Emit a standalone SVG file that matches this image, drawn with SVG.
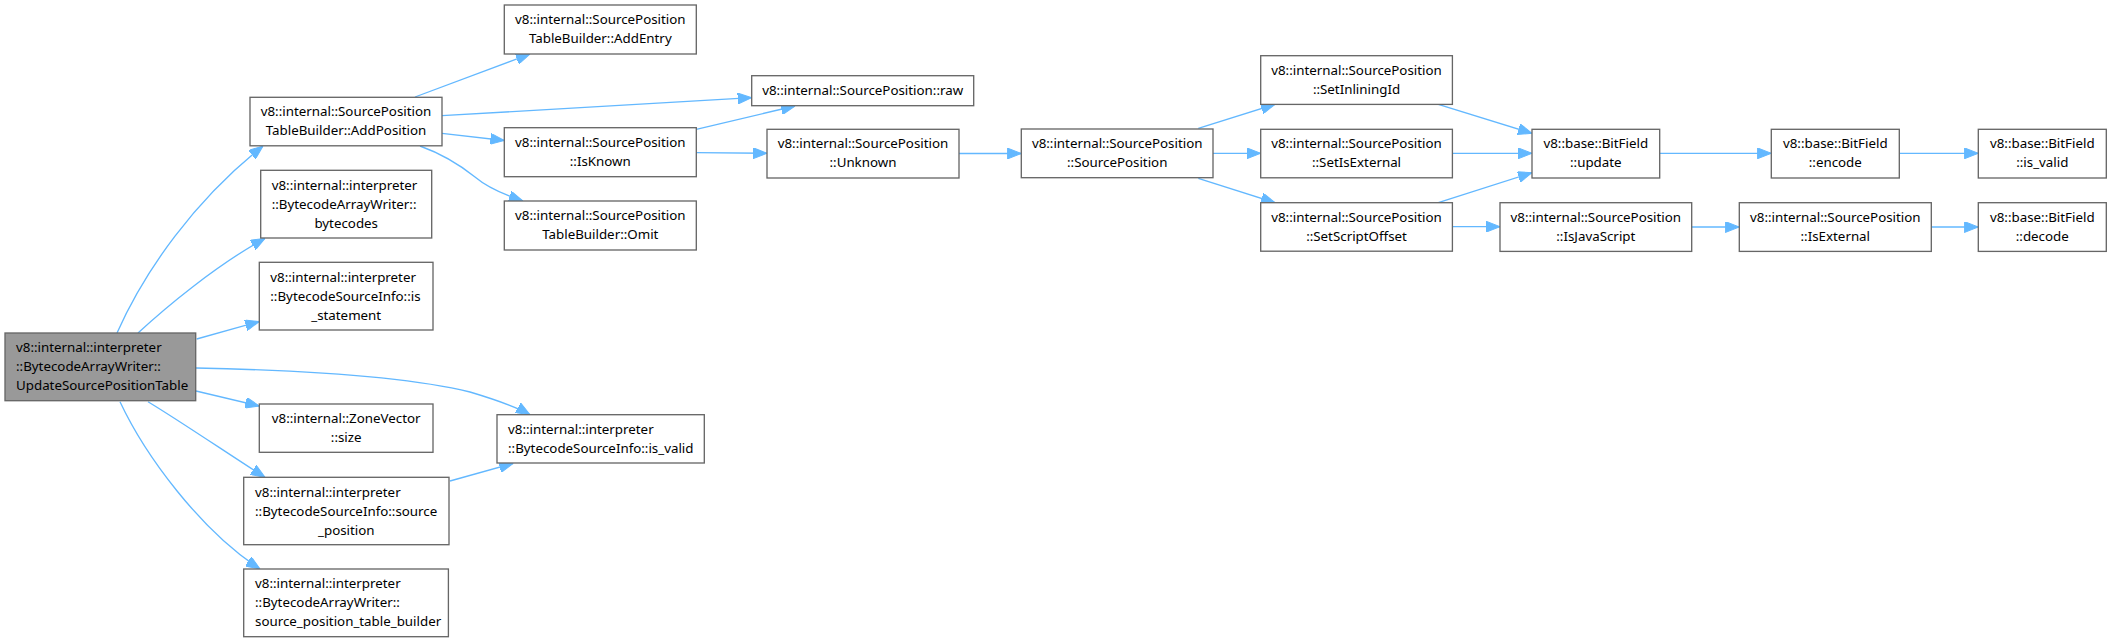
<svg xmlns="http://www.w3.org/2000/svg" width="2112" height="642" viewBox="0 0 2112 642">
<style>
.n rect{fill:#ffffff;stroke:#666666;stroke-width:1.33}
.n.hl rect{fill:#999999}
.n text{font-family:"Noto Sans","DejaVu Sans",sans-serif;font-size:13.33px;fill:#000000}
.c{text-anchor:middle}
.e path{fill:none;stroke:#63b8ff;stroke-width:1.33;marker-end:url(#ah)}
</style>
<defs>
<marker id="ah" markerUnits="userSpaceOnUse" viewBox="0 0 14 11" refX="14" refY="5.5" markerWidth="14" markerHeight="11" orient="auto">
<path d="M0,0 L14,5.5 L0,11 z" fill="#63b8ff" stroke="#63b8ff" stroke-width="1"/>
</marker>
</defs>
<rect width="2112" height="642" fill="#ffffff"/>
<g id="edges" class="e">
<path d="M117,333 C145,270 195,200 263,146"/>
<path d="M138,333 C165,308 215,266 265,238.3"/>
<path d="M196.7,339 L259.3,321.5"/>
<path d="M196,368 C290,370 400,375 470,392 C490,398 515,406 530,414.7"/>
<path d="M196,391 L259.3,406"/>
<path d="M148,401.7 C180,421 230,455 265,477.3"/>
<path d="M120,401.7 C145,455 200,530 260,569"/>
<path d="M450,481 L513.3,463.3"/>
<path d="M415,97 L530,54"/>
<path d="M442,115.7 L751.7,97.7"/>
<path d="M442,133.3 L504.3,140.5"/>
<path d="M420,146 C445,155 460,165 475,177 C488,188 505,195 523,201"/>
<path d="M696.3,129.3 L795,106"/>
<path d="M696.3,152.7 L767,153.3"/>
<path d="M959,153.5 L1021.3,153.5"/>
<path d="M1198.3,128.3 L1275,104.3"/>
<path d="M1213,153.3 L1260.7,153.3"/>
<path d="M1198.3,178.3 L1275,202.7"/>
<path d="M1438.3,104.3 L1532,133.3"/>
<path d="M1452.3,153.3 L1532,153.3"/>
<path d="M1438.3,202.7 L1532,172.7"/>
<path d="M1452.3,226.7 L1500,226.7"/>
<path d="M1659.7,153.3 L1771.3,153.3"/>
<path d="M1899.3,153.3 L1978.3,153.3"/>
<path d="M1691.7,227 L1739.3,227"/>
<path d="M1931.3,227 L1978.3,227"/>
</g>
<g id="n_update_table" class="n hl">
<rect x="5" y="333" width="190.7" height="67.7"/>
<text x="16" y="352">v8::internal::interpreter</text>
<text x="16" y="371">::BytecodeArrayWriter::</text>
<text x="16" y="390">UpdateSourcePositionTable</text>
</g>
<g id="n_add_position" class="n">
<rect x="250" y="97.3" width="192" height="48.5"/>
<text class="c" x="346" y="116">v8::internal::SourcePosition</text>
<text class="c" x="346" y="135">TableBuilder::AddPosition</text>
</g>
<g id="n_bytecodes" class="n">
<rect x="260.7" y="170.3" width="171" height="67.7"/>
<text x="271.7" y="190">v8::internal::interpreter</text>
<text x="271.7" y="209">::BytecodeArrayWriter::</text>
<text class="c" x="346.2" y="228">bytecodes</text>
</g>
<g id="n_is_statement" class="n">
<rect x="259.3" y="262.3" width="173.7" height="67.7"/>
<text x="270.3" y="282">v8::internal::interpreter</text>
<text x="270.3" y="301">::BytecodeSourceInfo::is</text>
<text class="c" x="346.2" y="320">_statement</text>
</g>
<g id="n_zv_size" class="n">
<rect x="259.3" y="404" width="173.7" height="48.3"/>
<text class="c" x="346.2" y="422.5">v8::internal::ZoneVector</text>
<text class="c" x="346.2" y="441.5">::size</text>
</g>
<g id="n_source_position" class="n">
<rect x="243.7" y="477.3" width="205.3" height="67.4"/>
<text x="255" y="496.5">v8::internal::interpreter</text>
<text x="255" y="515.5">::BytecodeSourceInfo::source</text>
<text class="c" x="346.3" y="534.5">_position</text>
</g>
<g id="n_table_builder" class="n">
<rect x="243.7" y="569" width="204.7" height="67.7"/>
<text x="255" y="588">v8::internal::interpreter</text>
<text x="255" y="607">::BytecodeArrayWriter::</text>
<text x="255" y="626">source_position_table_builder</text>
</g>
<g id="n_bsi_is_valid" class="n">
<rect x="497" y="414.7" width="207.3" height="48.3"/>
<text x="508" y="433.5">v8::internal::interpreter</text>
<text x="508" y="452.5">::BytecodeSourceInfo::is_valid</text>
</g>
<g id="n_add_entry" class="n">
<rect x="504.3" y="5" width="192" height="49"/>
<text class="c" x="600.3" y="24">v8::internal::SourcePosition</text>
<text class="c" x="600.3" y="43">TableBuilder::AddEntry</text>
</g>
<g id="n_is_known" class="n">
<rect x="504.3" y="127.7" width="192" height="49"/>
<text class="c" x="600.3" y="146.5">v8::internal::SourcePosition</text>
<text class="c" x="600.3" y="165.5">::IsKnown</text>
</g>
<g id="n_omit" class="n">
<rect x="504.3" y="201" width="192" height="49"/>
<text class="c" x="600.3" y="220">v8::internal::SourcePosition</text>
<text class="c" x="600.3" y="239">TableBuilder::Omit</text>
</g>
<g id="n_raw" class="n">
<rect x="751.7" y="75.7" width="222" height="30"/>
<text class="c" x="862.7" y="95">v8::internal::SourcePosition::raw</text>
</g>
<g id="n_unknown" class="n">
<rect x="767" y="129.3" width="192" height="48.7"/>
<text class="c" x="863" y="148">v8::internal::SourcePosition</text>
<text class="c" x="863" y="167">::Unknown</text>
</g>
<g id="n_sp_ctor" class="n">
<rect x="1021.3" y="129" width="191.7" height="48.7"/>
<text class="c" x="1117.2" y="148">v8::internal::SourcePosition</text>
<text class="c" x="1117.2" y="167">::SourcePosition</text>
</g>
<g id="n_set_inlining" class="n">
<rect x="1260.7" y="55.7" width="191.7" height="48.7"/>
<text class="c" x="1356.5" y="74.5">v8::internal::SourcePosition</text>
<text class="c" x="1356.5" y="93.5">::SetInliningId</text>
</g>
<g id="n_set_is_external" class="n">
<rect x="1260.7" y="129.3" width="191.7" height="48.5"/>
<text class="c" x="1356.5" y="148">v8::internal::SourcePosition</text>
<text class="c" x="1356.5" y="167">::SetIsExternal</text>
</g>
<g id="n_set_script_offset" class="n">
<rect x="1260.7" y="202.7" width="191.7" height="48.5"/>
<text class="c" x="1356.5" y="221.5">v8::internal::SourcePosition</text>
<text class="c" x="1356.5" y="240.5">::SetScriptOffset</text>
</g>
<g id="n_bf_update" class="n">
<rect x="1532" y="129.3" width="127.7" height="48.7"/>
<text class="c" x="1595.8" y="148">v8::base::BitField</text>
<text class="c" x="1595.8" y="167">::update</text>
</g>
<g id="n_is_javascript" class="n">
<rect x="1500" y="202.7" width="191.7" height="48.7"/>
<text class="c" x="1595.8" y="221.5">v8::internal::SourcePosition</text>
<text class="c" x="1595.8" y="240.5">::IsJavaScript</text>
</g>
<g id="n_bf_encode" class="n">
<rect x="1771.3" y="129.3" width="128" height="48.7"/>
<text class="c" x="1835.3" y="148">v8::base::BitField</text>
<text class="c" x="1835.3" y="167">::encode</text>
</g>
<g id="n_is_external" class="n">
<rect x="1739.3" y="202.7" width="192" height="48.7"/>
<text class="c" x="1835.3" y="221.5">v8::internal::SourcePosition</text>
<text class="c" x="1835.3" y="240.5">::IsExternal</text>
</g>
<g id="n_bf_is_valid" class="n">
<rect x="1978.3" y="129.3" width="128" height="48.7"/>
<text class="c" x="2042.3" y="148">v8::base::BitField</text>
<text class="c" x="2042.3" y="167">::is_valid</text>
</g>
<g id="n_bf_decode" class="n">
<rect x="1978.3" y="202.7" width="128" height="48.7"/>
<text class="c" x="2042.3" y="221.5">v8::base::BitField</text>
<text class="c" x="2042.3" y="240.5">::decode</text>
</g>
</svg>
